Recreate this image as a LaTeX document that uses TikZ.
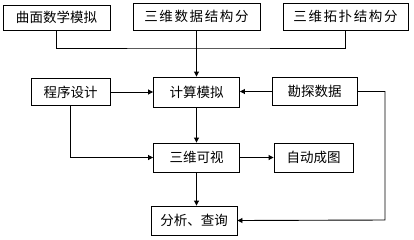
\documentclass[tikz,border=0pt]{standalone}
\usepackage{fontspec}
\setmainfont{Noto Sans CJK SC}
\newfontfamily\spaced[LetterSpace=12]{Noto Sans CJK SC}
\usetikzlibrary{arrows.meta}
\begin{document}
\begin{tikzpicture}[x=1pt,y=-1pt,
  box/.style={draw,line width=0.9pt,inner sep=0pt,font=\fontsize{13.5}{14}\selectfont},
  conn/.style={line width=0.9pt},
  arr/.style={line width=0.9pt,-{Triangle[length=5pt,width=5pt]}}]
\useasboundingbox (0,0) rectangle (414,239);
\node[box,minimum width=107pt,minimum height=25pt] (b1) at (56.5,17.5) {曲面数学模拟};
\node[box,minimum width=127pt,minimum height=27pt] (b2) at (196.5,16.5) {\spaced 三维数据结构分};
\node[box,minimum width=125pt,minimum height=27pt] (b3) at (345.5,16.5) {\spaced 三维拓扑结构分};
\node[box,minimum width=79pt,minimum height=27pt] (prog) at (70.5,92) {程序设计};
\node[box,minimum width=86pt,minimum height=30pt] (calc) at (196.5,92) {计算模拟};
\node[box,minimum width=85pt,minimum height=28pt] (kt) at (314.5,91.5) {勘探数据};
\node[box,minimum width=86pt,minimum height=29pt] (vis) at (196.5,157.5) {三维可视};
\node[box,minimum width=79pt,minimum height=29pt] (auto) at (313.5,157.5) {自动成图};
\node[box,minimum width=86pt,minimum height=29pt] (ana) at (194,220.5) {分析、查询};
\coordinate (j) at (196.5,48);
\coordinate (rr) at (385,220);
\draw[conn] (b1.south) |- (j) -| (b3.south);
\draw[arr] (b2.south) -- (calc.north);
\draw[arr] (prog.east) -- (calc.west);
\draw[arr] (kt.west) -- (kt.west -| calc.east);
\draw[arr] (kt.east) -| (rr) -- (ana.east);
\draw[arr] (prog.south) |- (vis.west);
\draw[arr] (calc.south) -- (vis.north);
\draw[arr] (vis.east) -- (vis.east -| auto.west);
\draw[arr] (vis.south) -- (vis.south |- ana.north);
\end{tikzpicture}
\end{document}
